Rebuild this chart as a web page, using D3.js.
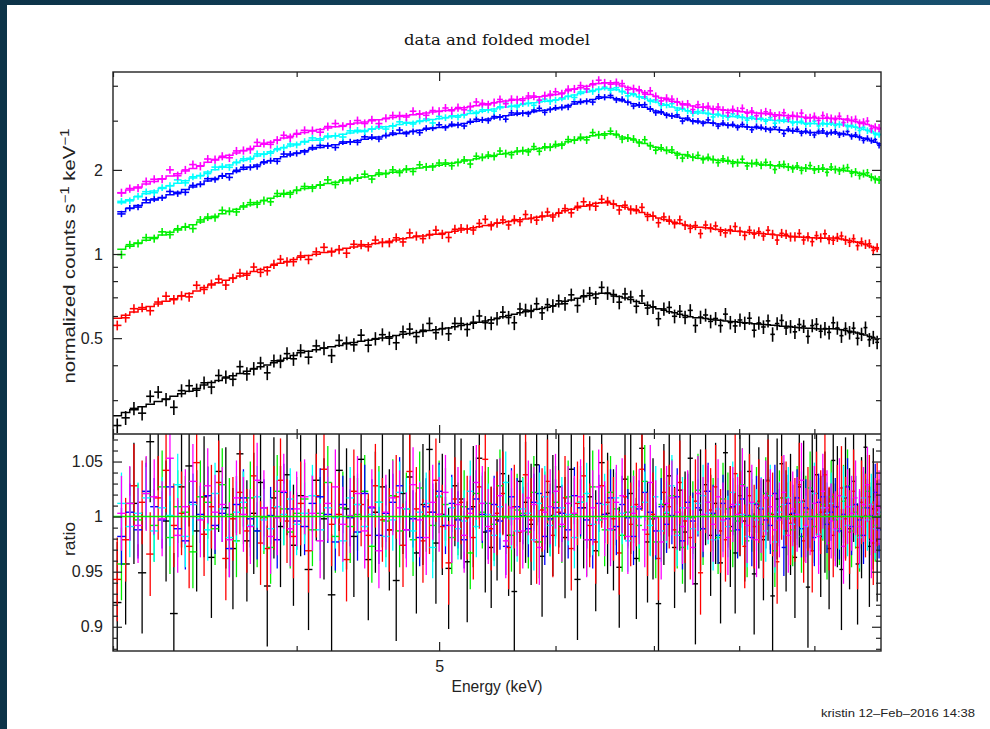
<!DOCTYPE html>
<html>
<head>
<meta charset="utf-8">
<script src="https://cdnjs.cloudflare.com/ajax/libs/d3/7.8.5/d3.min.js"></script>
<style>
  body { margin: 0; background: #0e3a50; }
  svg { display: block; }
</style>
</head>
<body>
<svg id="chart" width="990" height="729"></svg>
<script>
// ---- data: bin centres (keV), folded model (counts/s/keV), data/model ratio (per mille off 1) ----
const energyBlack = [3.02,3.06,3.1,3.14,3.18,3.22,3.26,3.3,3.34,3.38,3.42,3.46,3.5,3.54,3.58,3.62,3.66,3.7,3.74,3.78,3.82,3.86,3.9,3.94,3.98,
  4.025,4.075,4.125,4.175,4.225,4.275,4.325,4.375,4.425,4.475,4.525,4.575,4.625,4.675,4.725,4.775,4.825,4.875,4.925,4.975,5.025,5.075,5.125,5.175,5.225,5.275,5.325,5.375,5.425,5.475,5.525,5.575,5.625,5.675,5.725,5.775,5.825,5.875,5.925,5.975,
  6.03,6.09,6.15,6.21,6.27,6.33,6.39,6.45,6.51,6.57,6.63,6.69,6.75,6.81,6.87,6.93,6.99,7.05,7.11,7.17,7.23,7.29,7.35,7.41,7.47,7.53,7.59,7.65,7.71,7.77,7.83,7.89,7.95,8.01,8.07,8.13,8.19,8.25,8.31,8.37,8.43,8.49,8.55,8.61,8.67,8.73,8.79,8.85,8.91,8.97,9.03,9.09,9.15,9.21,9.27,9.33,9.39,9.45,9.51,9.57,9.63,9.69,9.75,9.81,9.87,9.93];
const energyRed = [3.02,3.06,3.1,3.14,3.18,3.22,3.26,3.3,3.34,3.38,3.42,3.46,3.5,3.54,3.58,3.62,3.66,3.7,3.74,3.78,3.82,3.86,3.9,3.94,3.98,
  4.025,4.075,4.125,4.175,4.225,4.275,4.325,4.375,4.425,4.475,4.525,4.575,4.625,4.675,4.725,4.775,4.825,4.875,4.925,4.975,5.025,5.075,5.125,5.175,5.225,5.275,5.325,5.375,5.425,5.475,5.525,5.575,5.625,5.675,5.725,5.775,5.825,5.875,5.925,5.975,
  6.03,6.09,6.15,6.21,6.27,6.33,6.39,6.45,6.51,6.57,6.63,6.69,6.75,6.81,6.87,6.93,6.99,7.05,7.11,7.17,7.23,7.29,7.35,7.41,7.47,7.53,7.59,7.65,7.71,7.77,7.83,7.89,7.95,8.01,8.07,8.13,8.19,8.25,8.31,8.37,8.43,8.49,8.55,8.61,8.67,8.73,8.79,8.85,8.91,8.97,9.03,9.09,9.15,9.21,9.27,9.33,9.39,9.45,9.51,9.57,9.63,9.69,9.75,9.81,9.87,9.93];
const energyGreen = [3.04,3.08,3.12,3.16,3.2,3.24,3.28,3.32,3.36,3.4,3.44,3.48,3.52,3.56,3.6,3.64,3.68,3.72,3.76,3.8,3.84,3.88,3.92,3.96,4,
  4.05,4.1,4.15,4.2,4.25,4.3,4.35,4.4,4.45,4.5,4.55,4.6,4.65,4.7,4.75,4.8,4.85,4.9,4.95,5,5.05,5.1,5.15,5.2,5.25,5.3,5.35,5.4,5.45,5.5,5.55,5.6,5.65,5.7,5.75,5.8,5.85,5.9,5.95,6,
  6.06,6.12,6.18,6.24,6.3,6.36,6.42,6.48,6.54,6.6,6.66,6.72,6.78,6.84,6.9,6.96,7.02,7.08,7.14,7.2,7.26,7.32,7.38,7.44,7.5,7.56,7.62,7.68,7.74,7.8,7.86,7.92,7.98,8.04,8.1,8.16,8.22,8.28,8.34,8.4,8.46,8.52,8.58,8.64,8.7,8.76,8.82,8.88,8.94,9,9.06,9.12,9.18,9.24,9.3,9.36,9.42,9.48,9.54,9.6,9.66,9.72,9.78,9.84,9.9,9.96];
const energyBlue = [3.04,3.08,3.12,3.16,3.2,3.24,3.28,3.32,3.36,3.4,3.44,3.48,3.52,3.56,3.6,3.64,3.68,3.72,3.76,3.8,3.84,3.88,3.92,3.96,4,
  4.05,4.1,4.15,4.2,4.25,4.3,4.35,4.4,4.45,4.5,4.55,4.6,4.65,4.7,4.75,4.8,4.85,4.9,4.95,5,5.05,5.1,5.15,5.2,5.25,5.3,5.35,5.4,5.45,5.5,5.55,5.6,5.65,5.7,5.75,5.8,5.85,5.9,5.95,6,
  6.06,6.12,6.18,6.24,6.3,6.36,6.42,6.48,6.54,6.6,6.66,6.72,6.78,6.84,6.9,6.96,7.02,7.08,7.14,7.2,7.26,7.32,7.38,7.44,7.5,7.56,7.62,7.68,7.74,7.8,7.86,7.92,7.98,8.04,8.1,8.16,8.22,8.28,8.34,8.4,8.46,8.52,8.58,8.64,8.7,8.76,8.82,8.88,8.94,9,9.06,9.12,9.18,9.24,9.3,9.36,9.42,9.48,9.54,9.6,9.66,9.72,9.78,9.84,9.9,9.96];
const energyCyan = [3.04,3.08,3.12,3.16,3.2,3.24,3.28,3.32,3.36,3.4,3.44,3.48,3.52,3.56,3.6,3.64,3.68,3.72,3.76,3.8,3.84,3.88,3.92,3.96,4,
  4.05,4.1,4.15,4.2,4.25,4.3,4.35,4.4,4.45,4.5,4.55,4.6,4.65,4.7,4.75,4.8,4.85,4.9,4.95,5,5.05,5.1,5.15,5.2,5.25,5.3,5.35,5.4,5.45,5.5,5.55,5.6,5.65,5.7,5.75,5.8,5.85,5.9,5.95,6,
  6.06,6.12,6.18,6.24,6.3,6.36,6.42,6.48,6.54,6.6,6.66,6.72,6.78,6.84,6.9,6.96,7.02,7.08,7.14,7.2,7.26,7.32,7.38,7.44,7.5,7.56,7.62,7.68,7.74,7.8,7.86,7.92,7.98,8.04,8.1,8.16,8.22,8.28,8.34,8.4,8.46,8.52,8.58,8.64,8.7,8.76,8.82,8.88,8.94,9,9.06,9.12,9.18,9.24,9.3,9.36,9.42,9.48,9.54,9.6,9.66,9.72,9.78,9.84,9.9,9.96];
const energyMagenta = [3.04,3.08,3.12,3.16,3.2,3.24,3.28,3.32,3.36,3.4,3.44,3.48,3.52,3.56,3.6,3.64,3.68,3.72,3.76,3.8,3.84,3.88,3.92,3.96,4,
  4.05,4.1,4.15,4.2,4.25,4.3,4.35,4.4,4.45,4.5,4.55,4.6,4.65,4.7,4.75,4.8,4.85,4.9,4.95,5,5.05,5.1,5.15,5.2,5.25,5.3,5.35,5.4,5.45,5.5,5.55,5.6,5.65,5.7,5.75,5.8,5.85,5.9,5.95,6,
  6.06,6.12,6.18,6.24,6.3,6.36,6.42,6.48,6.54,6.6,6.66,6.72,6.78,6.84,6.9,6.96,7.02,7.08,7.14,7.2,7.26,7.32,7.38,7.44,7.5,7.56,7.62,7.68,7.74,7.8,7.86,7.92,7.98,8.04,8.1,8.16,8.22,8.28,8.34,8.4,8.46,8.52,8.58,8.64,8.7,8.76,8.82,8.88,8.94,9,9.06,9.12,9.18,9.24,9.3,9.36,9.42,9.48,9.54,9.6,9.66,9.72,9.78,9.84,9.9,9.96];

const modelBlack = [0.264,0.271,0.277,0.284,0.29,0.297,0.303,0.31,0.316,0.323,0.33,0.34,0.347,0.353,0.36,0.367,0.374,0.381,0.388,0.395,0.401,0.408,0.417,0.424,0.433,
  0.443,0.449,0.454,0.461,0.466,0.471,0.477,0.482,0.487,0.491,0.496,0.501,0.506,0.511,0.516,0.52,0.524,0.528,0.532,0.536,0.54,0.544,0.549,0.555,0.56,0.565,0.57,0.576,0.582,0.589,0.596,0.603,0.609,0.616,0.622,0.628,0.634,0.639,0.645,0.652,
  0.662,0.677,0.685,0.694,0.703,0.711,0.719,0.724,0.723,0.716,0.705,0.696,0.687,0.676,0.667,0.656,0.647,0.637,0.629,0.621,0.616,0.609,0.602,0.597,0.591,
  0.591,0.588,0.584,0.581,0.579,0.576,0.574,0.572,0.57,0.568,0.566,0.563,0.562,0.56,0.558,0.556,0.555,0.552,0.551,0.549,0.547,0.545,0.544,0.542,0.542,0.54,0.539,0.539,0.54,0.54,0.539,0.536,0.532,0.529,0.526,0.522,0.517,0.513,0.507,0.5,0.494];
const modelRed = [0.589,0.604,0.62,0.635,0.649,0.662,0.678,0.692,0.707,0.722,0.737,0.759,0.774,0.789,0.805,0.82,0.835,0.851,0.866,0.881,0.897,0.912,0.927,0.941,0.956,
  0.973,0.987,0.999,1.013,1.024,1.036,1.048,1.059,1.069,1.08,1.091,1.102,1.112,1.123,1.134,1.143,1.152,1.161,1.17,1.178,1.187,1.196,1.207,1.219,1.23,1.242,1.253,1.265,1.276,1.288,1.297,1.307,1.316,1.325,1.334,1.343,1.353,1.36,1.369,1.38,
  1.4,1.429,1.446,1.464,1.483,1.501,1.518,1.527,1.525,1.51,1.487,1.469,1.449,1.427,1.408,1.385,1.365,1.345,1.328,1.311,1.299,1.285,1.271,1.259,1.247,
  1.247,1.241,1.233,1.227,1.221,1.216,1.212,1.207,1.203,1.198,1.193,1.189,1.186,1.181,1.178,1.174,1.17,1.166,1.163,1.158,1.155,1.151,1.148,1.144,1.143,1.14,1.138,1.138,1.14,1.14,1.137,1.131,1.123,1.117,1.109,1.102,1.091,1.082,1.069,1.056,1.042];
const modelGreen = [1.04,1.067,1.094,1.121,1.145,1.169,1.196,1.22,1.247,1.274,1.301,1.339,1.366,1.393,1.42,1.447,1.474,1.501,1.528,1.555,1.582,1.609,1.636,1.661,1.688,
  1.717,1.742,1.763,1.787,1.806,1.828,1.85,1.868,1.887,1.906,1.925,1.944,1.963,1.982,2.001,2.017,2.033,2.049,2.066,2.079,2.095,2.111,2.13,2.152,2.171,2.192,2.211,2.233,2.252,2.273,2.29,2.306,2.322,2.338,2.354,2.371,2.387,2.4,2.417,2.435,
  2.475,2.522,2.552,2.584,2.616,2.649,2.678,2.695,2.692,2.665,2.624,2.592,2.557,2.519,2.484,2.444,2.408,2.373,2.344,2.314,2.292,2.268,2.244,2.222,2.201,
  2.201,2.19,2.176,2.165,2.155,2.147,2.138,2.13,2.122,2.114,2.106,2.098,2.093,2.084,2.079,2.071,2.066,2.057,2.052,2.044,2.039,2.03,2.025,2.02,2.017,2.012,2.009,2.009,2.012,2.012,2.006,1.995,1.982,1.971,1.958,1.944,1.925,1.909,1.887,1.863,1.839];
const modelBlue = [1.417,1.454,1.49,1.527,1.56,1.593,1.63,1.663,1.7,1.737,1.774,1.825,1.862,1.899,1.936,1.972,2.009,2.046,2.083,2.12,2.156,2.193,2.23,2.263,2.3,
  2.34,2.374,2.403,2.436,2.462,2.491,2.521,2.547,2.572,2.598,2.624,2.65,2.675,2.701,2.727,2.749,2.771,2.793,2.815,2.834,2.856,2.878,2.904,2.933,2.959,2.988,3.014,3.043,3.069,3.099,3.121,3.143,3.165,3.187,3.209,3.231,3.253,3.272,3.294,3.31,
  3.34,3.4,3.44,3.483,3.527,3.571,3.611,3.633,3.629,3.593,3.538,3.494,3.447,3.396,3.349,3.294,3.247,3.2,3.16,3.119,3.09,3.058,3.025,2.996,2.967,
  2.967,2.952,2.934,2.919,2.905,2.894,2.883,2.872,2.861,2.85,2.839,2.828,2.821,2.81,2.803,2.792,2.785,2.774,2.766,2.755,2.748,2.737,2.73,2.723,2.719,2.712,2.708,2.708,2.712,2.712,2.705,2.69,2.672,2.657,2.639,2.621,2.595,2.573,2.544,2.512,2.479];
const modelCyan = [1.525,1.564,1.604,1.643,1.679,1.715,1.754,1.79,1.83,1.869,1.909,1.964,2.004,2.043,2.083,2.123,2.162,2.202,2.241,2.281,2.321,2.36,2.4,2.435,2.475,
  2.519,2.554,2.586,2.622,2.649,2.681,2.713,2.74,2.768,2.796,2.823,2.851,2.879,2.907,2.934,2.958,2.982,3.006,3.029,3.049,3.073,3.097,3.124,3.156,3.184,3.216,3.243,3.275,3.303,3.334,3.358,3.382,3.406,3.429,3.453,3.477,3.501,3.52,3.544,3.554,
  3.59,3.661,3.704,3.751,3.798,3.846,3.889,3.912,3.908,3.869,3.81,3.763,3.712,3.657,3.606,3.548,3.497,3.446,3.403,3.359,3.328,3.293,3.258,3.226,3.195,
  3.195,3.179,3.16,3.144,3.128,3.116,3.105,3.093,3.081,3.069,3.058,3.046,3.038,3.026,3.018,3.007,2.999,2.987,2.979,2.967,2.96,2.948,2.94,2.932,2.928,2.92,2.916,2.916,2.92,2.92,2.913,2.897,2.877,2.862,2.842,2.822,2.795,2.771,2.74,2.705,2.67];
const modelMagenta = [1.652,1.695,1.737,1.78,1.819,1.858,1.9,1.939,1.982,2.025,2.068,2.128,2.171,2.214,2.257,2.299,2.342,2.385,2.428,2.471,2.514,2.557,2.6,2.638,2.681,
  2.722,2.758,2.79,2.825,2.853,2.884,2.915,2.942,2.969,2.996,3.023,3.05,3.077,3.103,3.13,3.152,3.175,3.197,3.219,3.237,3.259,3.281,3.307,3.338,3.364,3.394,3.42,3.45,3.476,3.506,3.528,3.549,3.571,3.592,3.614,3.635,3.656,3.673,3.695,3.72,
  3.77,3.839,3.884,3.933,3.983,4.032,4.077,4.102,4.098,4.057,3.995,3.946,3.892,3.835,3.781,3.72,3.666,3.613,3.567,3.522,3.489,3.452,3.415,3.383,3.35,
  3.35,3.333,3.313,3.296,3.28,3.267,3.255,3.243,3.23,3.218,3.206,3.193,3.185,3.173,3.165,3.152,3.144,3.132,3.124,3.111,3.103,3.091,3.083,3.074,3.07,3.062,3.058,3.058,3.062,3.062,3.054,3.037,3.017,3,2.98,2.959,2.93,2.906,2.873,2.836,2.799];

const ratioBlack = [-78,-43,12,-51,68,79,-4,-88,27,46,-13,18,-37,41,8,-29,57,-22,3,31,-63,17,-9,38,-26,
  19,-48,33,-2,-71,42,7,-18,52,-39,4,27,-12,-58,21,36,-33,11,61,-24,2,-47,28,16,-41,9,53,-14,-28,-3,39,-17,-68,32,13,-7,47,-36,22,1,
  27,-19,43,-57,8,18,-31,49,3,-12,-46,34,21,-38,62,-23,-2,-79,11,37,-28,24,-14,53,-61,6,29,-17,12,-42,58,-9,-33,19,-4,41,-52,8,-21,33,-72,16,48,-13,2,-37,27,14,-64,23,38,-18,4,-29,51,9,-48,17,-11,32,-43,-1,63,-27,7,-22];
const ratioRed = [-57,-21,28,13,-34,17,42,-8,3,-27,49,-16,9,31,-38,-2,22,-13,37,-24,-29,8,33,-4,-18,
  12,-31,19,43,-7,2,-39,23,11,-17,28,-3,-12,18,-26,41,7,-22,4,33,-9,-42,16,13,-1,-19,27,52,-11,3,21,-28,9,-14,38,-3,-23,6,32,-17,
  4,17,-29,12,37,-8,-23,28,13,-2,-33,18,-7,11,43,-16,2,-38,22,9,-12,31,-4,-19,14,-51,23,6,27,-13,-21,8,39,3,-27,19,-9,14,-18,32,2,-41,17,12,-6,-3,29,-22,7,-31,21,4,38,-11,-17,9,26,-2,-14,23,-28,13,1,18,-24,11];
const ratioGreen = [-43,12,-3,21,-8,27,-19,9,4,-32,18,13,-11,29,2,-22,8,17,-13,-1,-28,23,7,-14,3,
  16,-12,3,31,-18,8,-9,2,23,-27,13,-4,19,-13,7,-21,26,1,-8,18,11,-19,-2,9,-33,21,4,12,-7,28,-1,-17,6,3,-14,22,-23,8,-3,13,
  -9,18,2,13,-21,27,-3,-12,22,7,-17,4,9,-8,32,-2,-23,11,3,19,-14,-28,8,-1,24,-11,13,2,-19,16,7,-13,-4,29,-22,1,12,-7,21,3,-31,9,17,-2,-12,13,-18,4,26,-9,2,11,-24,18,-3,-11,14,28,-13,4,-17,8,23,-2,-8,1];
const ratioBlue = [-18,4,-12,23,9,-3,27,-11,-22,13,2,19,-8,3,-29,11,17,-2,-13,8,1,-21,22,7,-4,
  -9,12,18,2,-23,11,-1,-14,21,8,-17,3,13,28,-12,-2,-19,9,4,23,-8,12,-3,-21,7,16,2,-13,11,-4,-27,18,9,1,-11,13,21,-18,-2,8,
  3,-12,19,8,-3,-21,12,2,17,-9,11,-1,-18,7,22,4,-13,9,-7,1,18,-22,13,-4,8,-11,23,3,-17,12,-2,9,-12,16,1,-19,11,7,-3,-8,21,-1,-28,12,3,17,-11,8,-2,-19,13,18,-7,4,9,-13,2,27,-9,11,-3,-17,8,1,22,-12];
const ratioCyan = [12,-9,3,17,-13,8,1,29,-18,11,-2,-12,21,7,-19,4,13,-8,18,-3,-11,9,2,16,-7,
  3,19,-12,8,-1,-22,17,11,-9,2,13,-18,-3,22,7,-13,4,12,-28,19,1,8,-11,-4,23,-9,12,2,-17,9,31,-2,-13,7,3,-21,12,18,-8,1,
  8,2,-19,13,21,-7,-3,11,-12,17,3,-22,9,-1,13,-8,18,-13,4,28,-17,8,-2,-11,12,19,3,-21,7,-4,-9,22,11,2,-18,12,-3,8,-13,19,-23,4,11,17,-7,2,13,-9,-1,21,-16,8,3,12,-12,-2,18,-8,9,1,-19,17,-3,11,-11,4];
const ratioMagenta = [3,12,-8,21,18,-2,53,-17,9,32,-3,28,4,11,-21,17,2,-9,33,8,-18,-1,23,-11,7,
  18,3,-22,12,27,-7,1,21,-13,9,-31,4,17,8,-12,29,-3,-19,13,2,22,-8,11,-17,3,31,12,-9,1,19,-22,8,-2,-13,17,11,-28,4,9,23,
  -7,12,3,18,-21,8,27,-2,-11,13,19,-18,3,9,-12,31,-1,-23,12,17,4,-9,8,-28,21,2,13,-7,18,-3,-19,11,2,28,-8,13,-21,1,17,9,-12,-3,22,-17,7,2,33,-8,-1,12,-18,23,8,-4,-11,19,-27,9,3,17,-9,11,29,-22,1,8];

const spectrumNames = ["black", "red", "green", "blue", "cyan", "magenta"];
const spectrumColours = ["#000000", "#ff0000", "#00f000", "#0000ff", "#00ffff", "#ff00ff"];
const errorFraction = [0.055, 0.038, 0.033, 0.026, 0.028, 0.034];

const energyRange = [3.0, 9.99];
const countsRange = [0.227, 4.48];
const ratioRange = [0.878, 1.075];
const countsMajorTicks = [0.5, 1, 2];
const countsMinorTicks = [0.3, 0.4, 0.6, 0.7, 0.8, 0.9, 3, 4];
const ratioMajorTicks = [0.9, 0.95, 1, 1.05];
const ratioMinorTicks = [0.88, 0.89, 0.91, 0.92, 0.93, 0.94, 0.96, 0.97, 0.98, 0.99, 1.01, 1.02, 1.03, 1.04, 1.06, 1.07];
const energyMajorTicks = [5];
const energyMinorTicks = [3, 4, 6, 7, 8, 9];

// ---- layout ----
const box = {left: 113, right: 881, top: 72, mid: 434, bottom: 651};
const svg = d3.select("#chart");

const bg = svg.append("defs").append("linearGradient").attr("id", "bgGrad");
bg.append("stop").attr("offset", "0%").attr("stop-color", "#0c3348");
bg.append("stop").attr("offset", "100%").attr("stop-color", "#18506f");
svg.append("rect").attr("width", 990).attr("height", 729).attr("fill", "url(#bgGrad)");
svg.append("rect").attr("x", 7).attr("y", 5).attr("width", 983).attr("height", 724).attr("fill", "#ffffff");

const defs = svg.append("defs");
defs.append("clipPath").attr("id", "clipTop").append("rect")
    .attr("x", box.left).attr("y", box.top).attr("width", box.right - box.left).attr("height", box.mid - box.top);
defs.append("clipPath").attr("id", "clipRatio").append("rect")
    .attr("x", box.left).attr("y", box.mid).attr("width", box.right - box.left).attr("height", box.bottom - box.mid);

const x = d3.scaleLog().domain(energyRange).range([box.left, box.right]);
const yTop = d3.scaleLog().domain(countsRange).range([box.mid, box.top]);
const yRatio = d3.scaleLinear().domain(ratioRange).range([box.bottom, box.mid]);

// build one record per spectrum
const energies = [energyBlack, energyRed, energyGreen, energyBlue, energyCyan, energyMagenta];
const models = [modelBlack, modelRed, modelGreen, modelBlue, modelCyan, modelMagenta];
const ratios = [ratioBlack, ratioRed, ratioGreen, ratioBlue, ratioCyan, ratioMagenta];

const spectra = spectrumNames.map(function(name, s) {
  const e = energies[s];
  const bins = e.map(function(c, i) {
    const lo = i > 0 ? (e[i - 1] + c) / 2 : c - (e[1] - e[0]) / 2;
    const hi = i < e.length - 1 ? (c + e[i + 1]) / 2 : c + (e[i] - e[i - 1]) / 2;
    const r = 1 + ratios[s][i] / 1000;
    const m = models[s][i];
    return {e: c, lo: lo, hi: hi, model: m, ratio: r, data: m * r,
            err: m * errorFraction[s], rerr: errorFraction[s]};
  });
  return {name: name, colour: spectrumColours[s], bins: bins};
});

// ---- upper panel: data and folded model ----
const upper = svg.append("g").attr("clip-path", "url(#clipTop)");
spectra.forEach(function(sp) {
  const g = upper.append("g").attr("class", "spec-" + sp.name);
  let d = "";
  sp.bins.forEach(function(b, i) {
    d += (i === 0 ? "M" : "L") + x(b.lo) + "," + yTop(b.model) + "H" + x(b.hi);
  });
  g.append("path").attr("d", d).attr("fill", "none")
      .attr("stroke", sp.colour).attr("stroke-width", 1.5);
  const cross = g.selectAll("g.pt").data(sp.bins).enter().append("g").attr("class", "pt");
  cross.append("line")
      .attr("x1", function(b) { return x(b.lo); })
      .attr("x2", function(b) { return x(b.hi); })
      .attr("y1", function(b) { return yTop(b.data); })
      .attr("y2", function(b) { return yTop(b.data); })
      .attr("stroke", sp.colour).attr("stroke-width", 1.6);
  cross.append("line")
      .attr("x1", function(b) { return x(b.e); })
      .attr("x2", function(b) { return x(b.e); })
      .attr("y1", function(b) { return yTop(b.data - b.err); })
      .attr("y2", function(b) { return yTop(b.data + b.err); })
      .attr("stroke", sp.colour).attr("stroke-width", 1.6);
});

// ---- lower panel: ratio ----
const lower = svg.append("g").attr("clip-path", "url(#clipRatio)");
spectra.forEach(function(sp) {
  const cross = lower.append("g").attr("class", "ratio-" + sp.name)
      .selectAll("g").data(sp.bins).enter().append("g");
  cross.append("line")
      .attr("x1", function(b) { return x(b.lo); })
      .attr("x2", function(b) { return x(b.hi); })
      .attr("y1", function(b) { return yRatio(b.ratio); })
      .attr("y2", function(b) { return yRatio(b.ratio); })
      .attr("stroke", sp.colour).attr("stroke-width", 1.4);
  cross.append("line")
      .attr("x1", function(b) { return x(b.e); })
      .attr("x2", function(b) { return x(b.e); })
      .attr("y1", function(b) { return yRatio(b.ratio - b.rerr); })
      .attr("y2", function(b) { return yRatio(b.ratio + b.rerr); })
      .attr("stroke", sp.colour).attr("stroke-width", 1.3);
});
lower.append("line")
    .attr("x1", box.left).attr("x2", box.right)
    .attr("y1", yRatio(1)).attr("y2", yRatio(1))
    .attr("stroke", "#00f000").attr("stroke-width", 1.5);

// ---- axes (ticks point inwards on all four sides) ----
const axisFont = "'Liberation Sans', Arial, sans-serif";
function tickGroup(axis, tx, ty) {
  const g = svg.append("g").attr("transform", "translate(" + tx + "," + ty + ")").call(axis);
  g.select(".domain").remove();
  g.selectAll("line").attr("stroke", "#222").attr("stroke-width", 1.2);
  g.selectAll("text").attr("font-family", axisFont).attr("font-size", 16).attr("fill", "#222");
  return g;
}
const fmtCounts = function(d) { return d3.format("~g")(d); };
const noLabel = function() { return ""; };

tickGroup(d3.axisLeft(yTop).tickValues(countsMajorTicks).tickSize(-9).tickPadding(10).tickFormat(fmtCounts), box.left, 0);
tickGroup(d3.axisLeft(yTop).tickValues(countsMinorTicks).tickSize(-5).tickFormat(noLabel), box.left, 0);
tickGroup(d3.axisRight(yTop).tickValues(countsMajorTicks).tickSize(-9).tickFormat(noLabel), box.right, 0);
tickGroup(d3.axisRight(yTop).tickValues(countsMinorTicks).tickSize(-5).tickFormat(noLabel), box.right, 0);

tickGroup(d3.axisLeft(yRatio).tickValues(ratioMajorTicks).tickSize(-9).tickPadding(10).tickFormat(d3.format("~g")), box.left, 0);
tickGroup(d3.axisLeft(yRatio).tickValues(ratioMinorTicks).tickSize(-5).tickFormat(noLabel), box.left, 0);
tickGroup(d3.axisRight(yRatio).tickValues(ratioMajorTicks).tickSize(-9).tickFormat(noLabel), box.right, 0);
tickGroup(d3.axisRight(yRatio).tickValues(ratioMinorTicks).tickSize(-5).tickFormat(noLabel), box.right, 0);

[box.top, box.mid].forEach(function(yy) {
  tickGroup(d3.axisTop(x).tickValues(energyMajorTicks).tickSize(-9).tickFormat(noLabel), 0, yy);
  tickGroup(d3.axisTop(x).tickValues(energyMinorTicks).tickSize(-5).tickFormat(noLabel), 0, yy);
});
[box.mid, box.bottom].forEach(function(yy, k) {
  tickGroup(d3.axisBottom(x).tickValues(energyMajorTicks).tickSize(-9).tickPadding(10)
      .tickFormat(k === 1 ? d3.format("d") : noLabel), 0, yy);
  tickGroup(d3.axisBottom(x).tickValues(energyMinorTicks).tickSize(-5).tickFormat(noLabel), 0, yy);
});

// frame
svg.append("rect").attr("x", box.left).attr("y", box.top)
    .attr("width", box.right - box.left).attr("height", box.bottom - box.top)
    .attr("fill", "none").attr("stroke", "#222").attr("stroke-width", 1.4);
svg.append("line").attr("x1", box.left).attr("x2", box.right)
    .attr("y1", box.mid).attr("y2", box.mid).attr("stroke", "#222").attr("stroke-width", 1.4);

// ---- text ----
svg.append("text").attr("x", 497).attr("y", 45).attr("text-anchor", "middle")
    .attr("font-family", "'DejaVu Serif', serif").attr("font-size", 14).attr("fill", "#111")
    .attr("textLength", 186).attr("lengthAdjust", "spacingAndGlyphs")
    .text("data and folded model");

svg.append("text").attr("x", 497).attr("y", 692).attr("text-anchor", "middle")
    .attr("font-family", axisFont).attr("font-size", 16).attr("fill", "#222")
    .attr("textLength", 91).attr("lengthAdjust", "spacingAndGlyphs")
    .text("Energy (keV)");

const yl = svg.append("text").attr("transform", "translate(75,256) rotate(-90)").attr("text-anchor", "middle")
    .attr("font-family", axisFont).attr("font-size", 16).attr("fill", "#222")
    .attr("textLength", 255).attr("lengthAdjust", "spacingAndGlyphs");
yl.append("tspan").text("normalized counts s");
yl.append("tspan").attr("dy", -6).attr("font-size", 12).text("\u22121");
yl.append("tspan").attr("dy", 6).text(" keV");
yl.append("tspan").attr("dy", -6).attr("font-size", 12).text("\u22121");

svg.append("text").attr("transform", "translate(75,539) rotate(-90)").attr("text-anchor", "middle")
    .attr("font-family", axisFont).attr("font-size", 16).attr("fill", "#222")
    .attr("textLength", 34).attr("lengthAdjust", "spacingAndGlyphs")
    .text("ratio");

svg.append("text").attr("x", 975).attr("y", 717).attr("text-anchor", "end")
    .attr("font-family", axisFont).attr("font-size", 11).attr("fill", "#222")
    .attr("textLength", 154).attr("lengthAdjust", "spacingAndGlyphs")
    .text("kristin 12\u2013Feb\u20132016 14:38");
</script>
</body>
</html>
